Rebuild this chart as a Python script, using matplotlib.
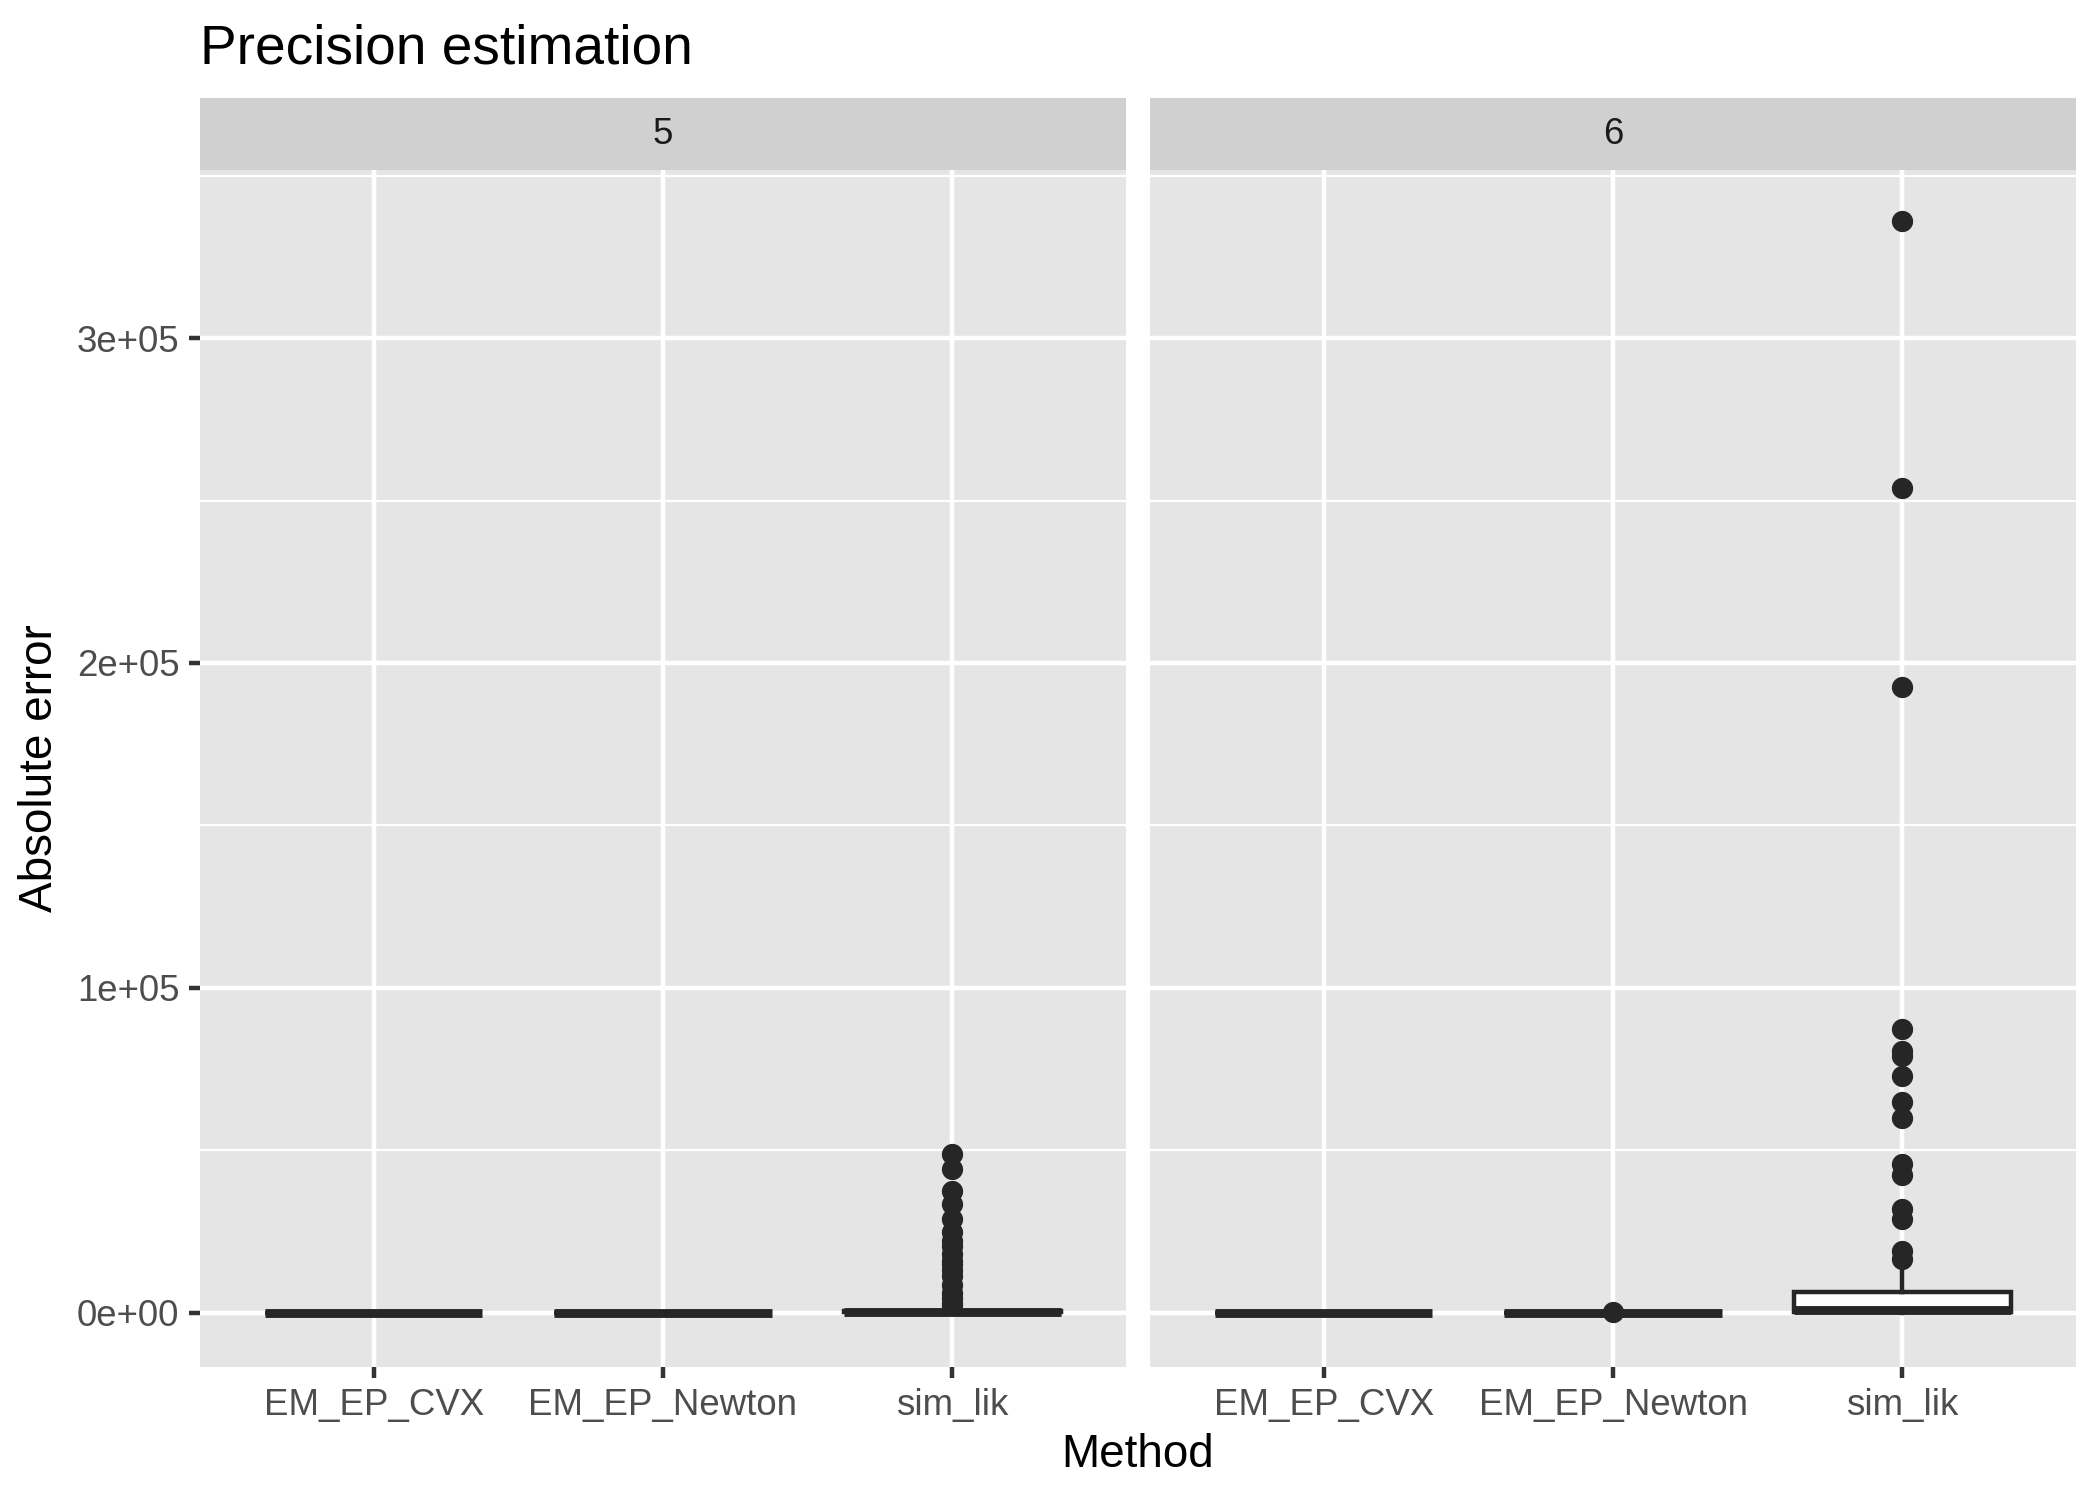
import matplotlib
matplotlib.use("Agg")
import matplotlib.pyplot as plt
from matplotlib.patches import Rectangle

plt.rcParams['font.family'] = ['Liberation Sans', 'DejaVu Sans']

methods = ["EM_EP_CVX", "EM_EP_Newton", "sim_lik"]
facets = ["5", "6"]
y_ticks = [0, 100000, 200000, 300000]
y_tick_labels = ["0e+00", "1e+05", "2e+05", "3e+05"]
y_minor = [50000, 150000, 250000, 350000]

# box stats: q1, median, q3, whisker low, whisker high
q1_5 = [0, 0, 50]
med_5 = [5, 5, 200]
q3_5 = [10, 10, 600]
wlo_5 = [0, 0, 0]
whi_5 = [20, 20, 1400]
fliers_5 = [[], [], [2200, 3100, 4500, 6100, 8600, 11300, 13000, 14900, 16000,
                     17900, 20500, 22000, 24800, 28700, 33300, 37400, 44300, 48700]]

q1_6 = [0, 0, 100]
med_6 = [5, 5, 700]
q3_6 = [10, 10, 6300]
wlo_6 = [0, 0, 0]
whi_6 = [20, 20, 13300]
fliers_6 = [[], [150], [16400, 19000, 28700, 31900, 42500, 45800, 59900, 64900,
                        72700, 78900, 80400, 87300, 192500, 254000, 336000]]

dark = "#262626"
W, H = 2100, 1500


def stats(q1, med, q3, wlo, whi, fl):
    out = []
    for i in range(len(methods)):
        out.append(dict(q1=q1[i], med=med[i], q3=q3[i], whislo=wlo[i],
                        whishi=whi[i], fliers=fl[i], label=methods[i]))
    return out


all_stats = [stats(q1_5, med_5, q3_5, wlo_5, whi_5, fliers_5),
             stats(q1_6, med_6, q3_6, wlo_6, whi_6, fliers_6)]

fig = plt.figure(figsize=(7, 5), dpi=300)
panel_left = [200, 1150]
panel_w = 926
panel_top, panel_bot = 170, 1367
strip_top = 98

axes = []
for k, st in enumerate(all_stats):
    ax = fig.add_axes([panel_left[k] / W, 1 - panel_bot / H, panel_w / W,
                       (panel_bot - panel_top) / H])
    ax.set_facecolor("#E5E5E5")
    for s in ax.spines.values():
        s.set_visible(False)
    ax.set_axisbelow(True)
    for yv in y_minor:
        ax.axhline(yv, color="white", lw=0.53, zorder=0)
    for yv in y_ticks:
        ax.axhline(yv, color="white", lw=1.07, zorder=0)
    for xv in range(1, len(methods) + 1):
        ax.axvline(xv, color="white", lw=1.07, zorder=0)

    ax.bxp(st, positions=range(1, len(methods) + 1), widths=0.75,
           patch_artist=True, showcaps=False,
           boxprops=dict(facecolor="white", edgecolor=dark, lw=1.07),
           whiskerprops=dict(color=dark, lw=1.07),
           medianprops=dict(color=dark, lw=2.13, solid_capstyle="butt"),
           flierprops=dict(marker="o", markersize=4.8, markerfacecolor=dark,
                           markeredgecolor=dark, markeredgewidth=0.3))

    ax.set_xlim(0.4, 3.6)
    ax.set_ylim(-16750, 351750)
    ax.set_xticks(range(1, len(methods) + 1))
    ax.set_xticklabels(methods)
    ax.set_yticks(y_ticks)
    ax.set_yticklabels(y_tick_labels)
    ax.tick_params(length=2.75, width=1.07, color="#333333", labelcolor="#4D4D4D",
                   labelsize=8.8, pad=2.2)
    if k == 1:
        ax.tick_params(axis="y", left=False, labelleft=False)

    # facet strip
    fig.patches.append(Rectangle((panel_left[k] / W, 1 - panel_top / H),
                                 panel_w / W, (panel_top - strip_top) / H,
                                 transform=fig.transFigure, facecolor="#D0D0D0",
                                 edgecolor="none"))
    fig.text((panel_left[k] + panel_w / 2) / W, 1 - (panel_top + strip_top) / 2 / H,
             facets[k], ha="center", va="center", fontsize=8.8, color="#1A1A1A")
    axes.append(ax)

fig.text(200 / W, 1 - 50 / H, "Precision estimation", ha="left", va="center",
         fontsize=13.2, color="black")
fig.text(40 / W, 1 - 768 / H, "Absolute error", ha="center", va="center",
         rotation=90, fontsize=11, color="black")
fig.text(1138 / W, 1 - 1455 / H, "Method", ha="center", va="center",
         fontsize=11, color="black")

fig.savefig("out.png", dpi=300, facecolor="white")
